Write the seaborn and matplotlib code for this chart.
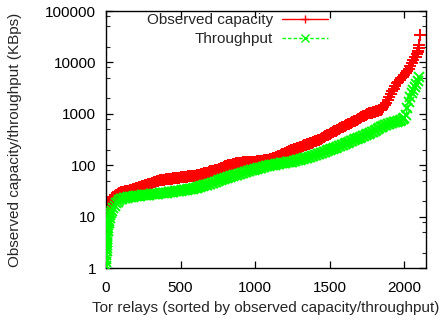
import numpy as np
import pandas as pd
import matplotlib
matplotlib.use("Agg")
import matplotlib.pyplot as plt
from matplotlib.ticker import LogLocator, FixedLocator, FuncFormatter, NullFormatter
import seaborn as sns

# ---------------- data ----------------
series_names = ["Observed capacity", "Throughput"]

cap_relay_head = [0, 1, 2, 3, 4, 6, 8, 10, 15, 20, 30, 40, 50, 60, 70, 80, 90]
cap_value_head = [0.5, 11, 12.5, 13.5, 14.5, 15.5, 16.5, 17, 18, 19, 21, 22.5, 24, 25.5, 26.5, 27.5, 28.5]

cap_relay_body = list(range(100, 2080, 10))
cap_value_body = [
    29.5, 30, 30.5, 31, 31.5, 32, 33, 33.5, 34, 35,
    36, 36.8, 37.6, 38.4, 39.2, 40, 40.8, 41.6, 42.4, 43.2,
    44, 45, 46.2, 47.4, 48.6, 50, 51, 51.5, 52, 52.5,
    53, 53.5, 54, 54.5, 55, 55.5, 56, 56.5, 57, 57.5,
    58, 58.5, 59, 59.5, 60, 60.5, 61, 61.5, 62, 62.5,
    63, 63.6, 64.2, 65, 66, 67.5, 69, 70.5, 72, 74,
    76, 77, 78, 79, 80.5, 82, 84, 86.5, 89, 92,
    95, 97, 99, 101, 103, 105, 107, 108.5, 110, 111,
    112, 112.5, 113, 113.5, 114, 114.5, 115, 115.5, 116.5, 117,
    118, 119, 120, 121, 122, 123, 124.5, 126, 127, 128.5,
    130, 133, 136, 140, 144, 148, 152.5, 157, 162, 167,
    172, 177, 182.5, 188, 194, 200, 205, 210, 215, 220,
    225, 231, 237, 243, 249, 255, 262, 269, 276, 283,
    290, 298, 307, 316, 325, 335, 349, 364, 379, 394,
    410, 425, 440, 456, 473, 490, 506, 524, 542, 561,
    580, 600, 621, 643, 666, 690, 714, 739, 765, 792,
    820, 853, 887, 922, 960, 1000, 1020, 1040, 1060, 1080,
    1100, 1125, 1150, 1180, 1210, 1250, 1350, 1500, 1650, 1850,
    2100, 2400, 2750, 3100, 3500, 3900, 4200, 4550, 4900, 5300,
    5800, 6300, 6800, 7500, 8500, 9700, 11000, 12500,
]

cap_relay_tail = [2080, 2085, 2090, 2094, 2097, 2100, 2104]
cap_value_tail = [13000, 14500, 15600, 17000, 19000, 22000, 34000]

thr_relay_head = [0, 1, 2, 3, 4, 5, 6, 7, 8, 9, 10, 12, 14, 16, 18, 20, 25, 30, 35, 40,
                  50, 60, 70, 80, 90]
thr_value_head = [1.1, 1.3, 1.5, 1.8, 2.1, 2.5, 2.8, 3.2, 3.6, 4, 4.4, 5.2, 6, 6.8, 7.5, 8.2,
                  9.5, 10.8, 12, 13, 14.8, 16.4, 18, 19.5, 20.8]

thr_relay_body = list(range(100, 2100, 10))
thr_value_body = [
    22, 22.4, 22.8, 23.1, 23.4, 23.7, 24, 24.3, 24.6, 24.8,
    25, 25.2, 25.4, 25.6, 25.8, 26, 26.2, 26.4, 26.6, 26.8,
    27, 27.2, 27.4, 27.6, 27.8, 28, 28.2, 28.4, 28.6, 28.8,
    29, 29.3, 29.6, 29.9, 30.2, 30.5, 30.8, 31.1, 31.4, 31.7,
    32, 32.4, 32.8, 33.2, 33.6, 34, 34.4, 34.8, 35.2, 35.6,
    36, 36.6, 37.3, 38, 38.7, 39.5, 40.3, 41.2, 42.1, 43,
    44, 45, 46, 47, 48, 49, 50.4, 51.8, 53.2, 54.6,
    56, 57.2, 58.4, 59.6, 60.8, 62, 63.2, 64.4, 65.6, 66.8,
    68, 69.6, 71.2, 72.8, 74.4, 76, 77.6, 79.2, 80.8, 82.4,
    84, 85.5, 87, 88.5, 90, 91.5, 93, 94.5, 96, 97.5,
    99, 100, 101.5, 103, 104, 105.5, 107, 108, 109.5, 111,
    112, 113, 114, 115, 116, 118, 120, 122, 124, 126,
    128, 130.5, 133, 135.5, 138, 141, 144, 147, 150, 154,
    158, 161, 164, 167.5, 171, 175, 179, 184, 189, 194,
    198, 203, 208, 214, 220, 226, 232, 238, 245, 252,
    260, 268, 276, 284, 292, 300, 308, 317, 326, 335,
    345, 355, 365, 376, 387, 398, 410, 423, 436, 450,
    465, 480, 500, 520, 545, 565, 585, 600, 615, 630,
    645, 658, 670, 682, 694, 705, 720, 740, 760, 790,
    830, 950, 1300, 1700, 2100, 2500, 2900, 3300, 3800, 4300,
]
thr_relay_tail = [2096]
thr_value_tail = [5100]

x_ticks = [0, 500, 1000, 1500, 2000]
y_ticks = [1, 10, 100, 1000, 10000, 100000]
x_label = "Tor relays (sorted by observed capacity/throughput)"
y_label = "Observed capacity/throughput (KBps)"

cap = pd.DataFrame({
    "relay": cap_relay_head + cap_relay_body + cap_relay_tail,
    "value": cap_value_head + cap_value_body + cap_value_tail,
})
thr = pd.DataFrame({
    "relay": thr_relay_head + thr_relay_body + thr_relay_tail,
    "value": thr_value_head + thr_value_body + thr_value_tail,
})

# ---------------- style ----------------
sns.set_style("ticks")
plt.rcParams["font.family"] = ["Liberation Sans", "DejaVu Sans"]
plt.rcParams["font.size"] = 11

fig = plt.figure(figsize=(4.44, 3.2), dpi=100)
ax = fig.add_axes([0.2387, 0.1625, 0.7208, 0.8031])

sns.lineplot(data=cap, x="relay", y="value", ax=ax, sort=False, estimator=None,
             color="#ff0000", linewidth=1.0, linestyle="-", marker="+",
             markersize=8, markeredgewidth=1.4, markeredgecolor="#ff0000",
             label=series_names[0], zorder=2)
sns.lineplot(data=thr, x="relay", y="value", ax=ax, sort=False, estimator=None,
             color="#00ff00", linewidth=1.0, linestyle=(0, (2.5, 1.5)), marker="x",
             markersize=6.5, markeredgewidth=1.4, markeredgecolor="#00ff00",
             label=series_names[1], zorder=3)

ax.set_yscale("log")
ax.set_xlim(0, 2145)
ax.set_ylim(1, 100000)

ax.xaxis.set_major_locator(FixedLocator(x_ticks))
ax.yaxis.set_major_locator(FixedLocator(y_ticks))
ax.yaxis.set_major_formatter(FuncFormatter(lambda v, p: "%d" % round(v)))
ax.yaxis.set_minor_locator(LogLocator(base=10, subs=(2.0, 5.0, 8.0)))
ax.yaxis.set_minor_formatter(NullFormatter())

for s in ax.spines.values():
    s.set_visible(True)
    s.set_color("black")
    s.set_linewidth(1.0)

ax.tick_params(axis="x", which="major", direction="in", length=5, width=0.9,
               top=True, bottom=True, labelsize=11, pad=9, colors="black")
ax.tick_params(axis="y", which="major", direction="in", length=5, width=0.9,
               left=True, right=True, labelsize=11, pad=7, colors="black")
ax.tick_params(axis="y", which="minor", direction="in", length=3, width=0.8,
               left=True, right=True)
ax.tick_params(axis="x", which="minor", bottom=False, top=False)

ax.set_xlabel(x_label, fontsize=11, labelpad=5)
ax.set_ylabel(y_label, fontsize=11, labelpad=17)

leg = ax.legend(loc="upper right", bbox_to_anchor=(0.70, 1.0), frameon=False,
                markerfirst=False, handlelength=3.0, handletextpad=0.6,
                labelspacing=0.3, borderpad=0.15, borderaxespad=0.0,
                fontsize=11, numpoints=1)
for h in leg.legend_handles:
    h.set_markersize(6)
    h.set_markeredgewidth(1.0)

fig.savefig("out.png", dpi=100)
